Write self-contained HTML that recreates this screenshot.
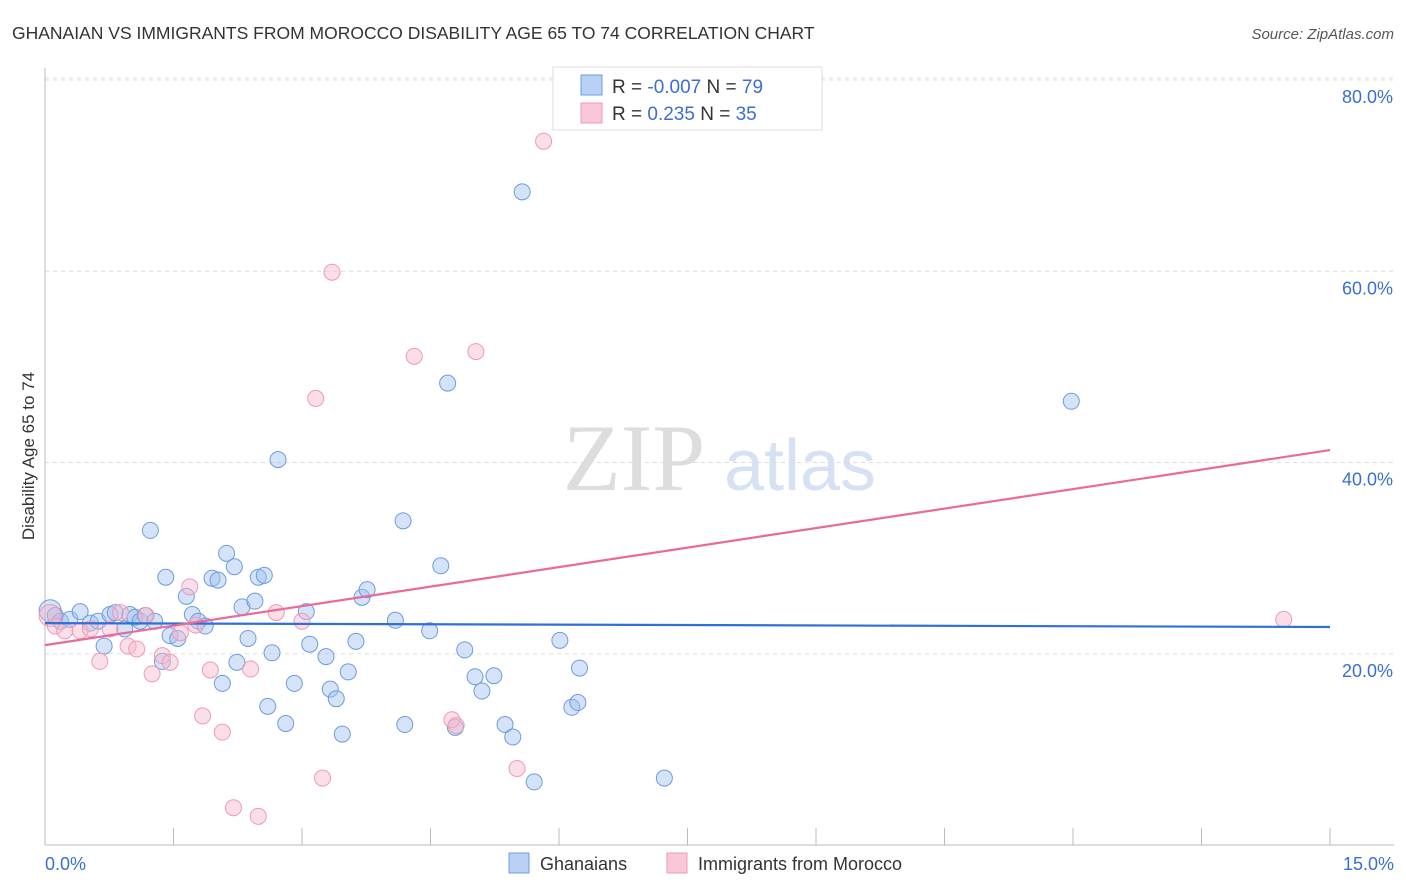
<!DOCTYPE html>
<html><head><meta charset="utf-8"><style>
body{margin:0;background:#fff;font-family:"Liberation Sans",sans-serif;}
svg{display:block}
</style></head><body>
<svg id="chart" width="1406" height="892">
<text x="12" y="39" font-size="17.5" fill="#333">GHANAIAN VS IMMIGRANTS FROM MOROCCO DISABILITY AGE 65 TO 74 CORRELATION CHART</text>
<text x="1394" y="39" font-size="15" fill="#555" font-style="italic" text-anchor="end">Source: ZipAtlas.com</text>
<text x="34" y="456" font-size="17" fill="#333" text-anchor="middle" transform="rotate(-90 34 456)">Disability Age 65 to 74</text>
<g><text x="634" y="490" font-size="95" fill="#ddd" font-family="Liberation Serif,serif" text-anchor="middle">ZIP</text><text x="800" y="490" font-size="72" fill="#d6e2f3" text-anchor="middle">atlas</text></g>
<g id="grid"></g><g id="axes"></g><g id="marks"></g>
<g>
<rect x="553" y="67" width="269" height="63" fill="#fff" stroke="#ddd"/>
<rect x="581" y="75" width="21" height="20" fill="#b7d0f3" stroke="#6e9be0"/>
<rect x="581" y="103" width="21" height="20" fill="#f9c7d6" stroke="#ee9ab5"/>
<text x="612" y="93" font-size="19" fill="#333">R = <tspan fill="#3a6fd0">-0.007</tspan>   N = <tspan fill="#3a6fd0">79</tspan></text>
<text x="612" y="120" font-size="19" fill="#333">R =   <tspan fill="#3a6fd0">0.235</tspan>   N = <tspan fill="#3a6fd0">35</tspan></text>
</g>
<g>
<rect x="509" y="853" width="20" height="20" fill="#b7d0f3" stroke="#6e9be0"/>
<text x="540" y="870" font-size="18" fill="#333">Ghanaians</text>
<rect x="667" y="853" width="20" height="20" fill="#f9c7d6" stroke="#ee9ab5"/>
<text x="698" y="870" font-size="18" fill="#333">Immigrants from Morocco</text>
</g>
</svg>
<script>
const yTicks=[20,40,60,80];
const yTickLabels=["20.0%","40.0%","60.0%","80.0%"];
const xTicks=[0,1.5,3,4.5,6,7.5,9,10.5,12,13.5,15];
const blueX=[0.06,0.12,0.18,0.29,0.41,0.53,0.62,0.69,0.76,0.82,0.93,0.99,1.05,1.11,1.17,1.23,1.28,1.37,1.41,1.46,1.55,1.65,1.72,1.79,1.87,1.95,2.02,2.07,2.12,2.21,2.24,2.30,2.37,2.45,2.49,2.56,2.60,2.65,2.72,2.81,2.91,3.05,3.09,3.28,3.33,3.40,3.47,3.54,3.63,3.70,3.76,4.09,4.18,4.20,4.49,4.62,4.70,4.79,4.90,5.02,5.10,5.24,5.37,5.46,5.57,5.71,6.01,6.15,6.22,6.24,7.23,11.98];
const blueY=[24.5,24.0,23.4,23.6,24.4,23.2,23.4,20.8,24.1,24.3,22.6,24.1,23.8,23.4,24.0,32.9,23.4,19.2,28.0,21.9,21.6,26.0,24.1,23.4,22.9,27.9,27.7,16.9,30.5,29.1,19.1,24.9,21.6,25.5,28.0,28.2,14.5,20.1,40.3,12.7,16.9,24.4,21.0,19.7,16.3,15.3,11.6,18.1,21.3,25.9,26.7,23.5,33.9,12.6,22.4,29.2,48.3,12.3,20.4,17.6,16.1,17.7,12.6,11.3,68.3,6.6,21.4,14.4,14.9,18.5,7.0,46.4];
const pinkX=[0.06,0.12,0.23,0.41,0.64,0.88,0.97,1.07,1.18,1.25,1.37,1.46,1.58,1.69,1.84,1.93,2.07,2.20,2.40,2.49,2.70,3.00,3.16,3.24,3.35,4.31,4.75,4.80,5.03,5.51,5.82,14.46,1.76,0.53,0.76];
const pinkY=[24.0,22.9,22.4,22.4,19.2,24.3,20.8,20.5,24.0,17.9,19.8,19.1,22.2,27.0,13.5,18.3,11.8,3.9,18.4,3.0,24.3,23.4,46.7,7.0,59.9,51.1,13.1,12.5,51.6,8.0,73.6,23.6,23.0,22.6,22.6];
const blueFit=[23.2,22.8], pinkFit=[20.9,41.3];
const ns="http://www.w3.org/2000/svg";
const X=v=>45+v/15*1285, Y=v=>845-v*9.5625;
function mk(tag,attrs,parent){const e=document.createElementNS(ns,tag);for(const k in attrs)e.setAttribute(k,attrs[k]);document.getElementById(parent).appendChild(e);return e;}
yTicks.forEach((t,i)=>{
 const l=mk('line',{x1:45,x2:1394,y1:Y(t),y2:Y(t),stroke:'#ddd','stroke-dasharray':'4 4'},'grid');
 
 
 const tx=mk('text',{x:1393,y:Y(t)+23,'font-size':18,fill:'#3a6fd0','text-anchor':'end'},'axes');tx.textContent=yTickLabels[i];
 
 
});
const tl=mk('line',{x1:45,x2:1394,y1:Y(80)-2,y2:Y(80)-2,stroke:'#ddd','stroke-dasharray':'4 4'},'grid');
const ax=mk('line',{x1:45,x2:45,y1:68,y2:845,stroke:'#bbb'},'axes');


const bx=mk('line',{x1:45,x2:1394,y1:845,y2:845,stroke:'#bbb'},'axes');


xTicks.forEach(t=>{const l=mk('line',{x1:X(t),x2:X(t),y1:828,y2:845,stroke:'#bbb'},'axes');
 
 });
[["0.0%",45,'start'],["15.0%",1394,'end']].forEach(a=>{const t=mk('text',{x:a[1],y:870,'font-size':18,fill:'#3a6fd0','text-anchor':a[2]},'axes');t.textContent=a[0];
 
 });
blueX.forEach((x,i)=>{const c=mk('circle',{cx:X(x),cy:Y(blueY[i]),r:i==0?11:8,fill:'rgba(160,194,240,0.45)',stroke:'#6e9be0','stroke-width':1},'marks');
 
 });
pinkX.forEach((x,i)=>{const c=mk('circle',{cx:X(x),cy:Y(pinkY[i]),r:i==0?11:8,fill:'rgba(247,184,203,0.45)',stroke:'#ee9ab5','stroke-width':1},'marks');
 
 });
const b=mk('line',{x1:X(0),x2:X(15),y1:Y(blueFit[0]),y2:Y(blueFit[1]),stroke:'#2f6fd6','stroke-width':2.2},'marks');


const p=mk('line',{x1:X(0),x2:X(15),y1:Y(pinkFit[0]),y2:Y(pinkFit[1]),stroke:'#e86a98','stroke-width':2.2},'marks');


</script>
</body></html>
